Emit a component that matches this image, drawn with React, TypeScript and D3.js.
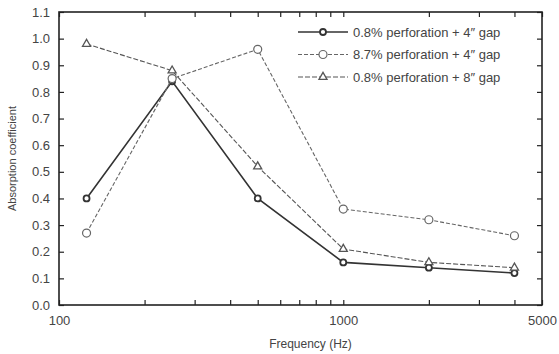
import { useEffect, useRef } from 'react';
import * as d3 from 'd3';

// frequencies (Hz) and absorption values per configuration
const freqs = [125, 250, 500, 1000, 2000, 4000];
const perf08gap4 = [0.4, 0.84, 0.4, 0.16, 0.14, 0.12];
const perf87gap4 = [0.27, 0.85, 0.96, 0.36, 0.32, 0.26];
const perf08gap8 = [0.98, 0.88, 0.52, 0.21, 0.16, 0.14];

const seriesNames = [
  '0.8% perforation + 4\u2033 gap',
  '8.7% perforation + 4\u2033 gap',
  '0.8% perforation + 8\u2033 gap',
];

const xTicks = [100, 200, 300, 400, 500, 600, 700, 800, 900, 1000, 2000, 3000, 4000, 5000];
const xLabels = [100, 1000, 5000];
const yTicks = [0, 0.1, 0.2, 0.3, 0.4, 0.5, 0.6, 0.7, 0.8, 0.9, 1.0, 1.1];

const W = 559;
const H = 354;
const margin = { top: 12, right: 17, bottom: 49, left: 59 };
const FONT = 'Liberation Sans, Arial, sans-serif';

const App = () => {
  const ref = useRef<SVGSVGElement>(null);

  useEffect(() => {
    const svg = d3.select(ref.current);
    svg.selectAll('*').remove();

    const x = d3.scaleLog().domain([100, 5000]).range([margin.left, W - margin.right]);
    const y = d3.scaleLinear().domain([0, 1.1]).range([H - margin.bottom, margin.top]);
    const x0 = margin.left, x1 = W - margin.right, y0 = H - margin.bottom, y1 = margin.top;

    const xFmt = (d: any) => (xLabels.includes(d) ? String(d) : '');

    const styleAxis = (g: any) => {
      g.select('.domain').remove();
      g.selectAll('line').attr('stroke', '#222').attr('stroke-width', 1.2);
      g.selectAll('text').attr('fill', '#444').attr('font-family', FONT).attr('font-size', 13);
    };

    svg.append('g').attr('transform', `translate(0,${y0})`)
      .call(d3.axisBottom(x).tickValues(xTicks).tickFormat(xFmt).tickSizeInner(-5).tickSizeOuter(0).tickPadding(11))
      .call(styleAxis);
    svg.append('g').attr('transform', `translate(0,${y1})`)
      .call(d3.axisTop(x).tickValues(xTicks).tickFormat(() => '').tickSizeInner(-5).tickSizeOuter(0))
      .call(styleAxis);
    svg.append('g').attr('transform', `translate(${x0},0)`)
      .call(d3.axisLeft(y).tickValues(yTicks).tickFormat(d3.format('.1f')).tickSizeInner(-5).tickSizeOuter(0).tickPadding(9))
      .call(styleAxis);
    svg.append('g').attr('transform', `translate(${x1},0)`)
      .call(d3.axisRight(y).tickValues(yTicks).tickFormat(() => '').tickSizeInner(-5).tickSizeOuter(0))
      .call(styleAxis);

    svg.append('rect')
      .attr('x', x0).attr('y', y1).attr('width', x1 - x0).attr('height', y0 - y1)
      .attr('fill', 'none').attr('stroke', '#222').attr('stroke-width', 1.6);

    const series = [
      { values: perf08gap4, dash: null, color: '#333', width: 1.6, marker: 'dot' },
      { values: perf87gap4, dash: '4,2', color: '#666', width: 1.1, marker: 'circle' },
      { values: perf08gap8, dash: '5,2', color: '#555', width: 1.1, marker: 'triangle' },
    ];

    const line = d3.line<number>()
      .x((_, i) => x(freqs[i]))
      .y((d) => y(d));

    const drawMarker = (g: any, kind: string, cx: number, cy: number, color: string) => {
      if (kind === 'triangle') {
        g.append('path')
          .attr('d', d3.symbol(d3.symbolTriangle, 28)())
          .attr('transform', `translate(${cx},${cy})`)
          .attr('fill', 'white').attr('stroke', color).attr('stroke-width', 1.3);
      } else {
        g.append('circle')
          .attr('cx', cx).attr('cy', cy).attr('r', kind === 'dot' ? 3 : 4)
          .attr('fill', 'white').attr('stroke', color).attr('stroke-width', kind === 'dot' ? 1.8 : 1.2);
      }
    };

    series.forEach((s) => {
      const g = svg.append('g');
      g.append('path')
        .attr('d', line(s.values))
        .attr('fill', 'none')
        .attr('stroke', s.color)
        .attr('stroke-width', s.width)
        .attr('stroke-dasharray', s.dash);
      s.values.forEach((v, i) => drawMarker(g, s.marker, x(freqs[i]), y(v), s.color));
    });

    // legend
    const legend = svg.append('g');
    series.forEach((s, i) => {
      const ly = 32 + i * 22.5;
      legend.append('line')
        .attr('x1', 298).attr('x2', 348).attr('y1', ly).attr('y2', ly)
        .attr('stroke', s.color).attr('stroke-width', s.width)
        .attr('stroke-dasharray', s.dash);
      drawMarker(legend, s.marker, 323, ly, s.color);
      legend.append('text')
        .attr('x', 353).attr('y', ly).attr('dy', '0.35em')
        .attr('font-family', FONT).attr('font-size', 13).attr('fill', '#444')
        .text(seriesNames[i]);
    });

    svg.append('text')
      .attr('x', (x0 + x1) / 2 + 10).attr('y', 348)
      .attr('text-anchor', 'middle')
      .attr('font-family', FONT).attr('font-size', 12).attr('fill', '#444')
      .text('Frequency (Hz)');

    svg.append('text')
      .attr('transform', `translate(16,${(y0 + y1) / 2}) rotate(-90)`)
      .attr('text-anchor', 'middle')
      .attr('font-family', FONT).attr('font-size', 11).attr('fill', '#444')
      .text('Absorption coefficient');
  }, []);

  return (
    <svg
      ref={ref}
      width={W}
      height={H}
      style={{ position: 'absolute', left: 0, top: 0, background: 'white' }}
    />
  );
};

export default App;
